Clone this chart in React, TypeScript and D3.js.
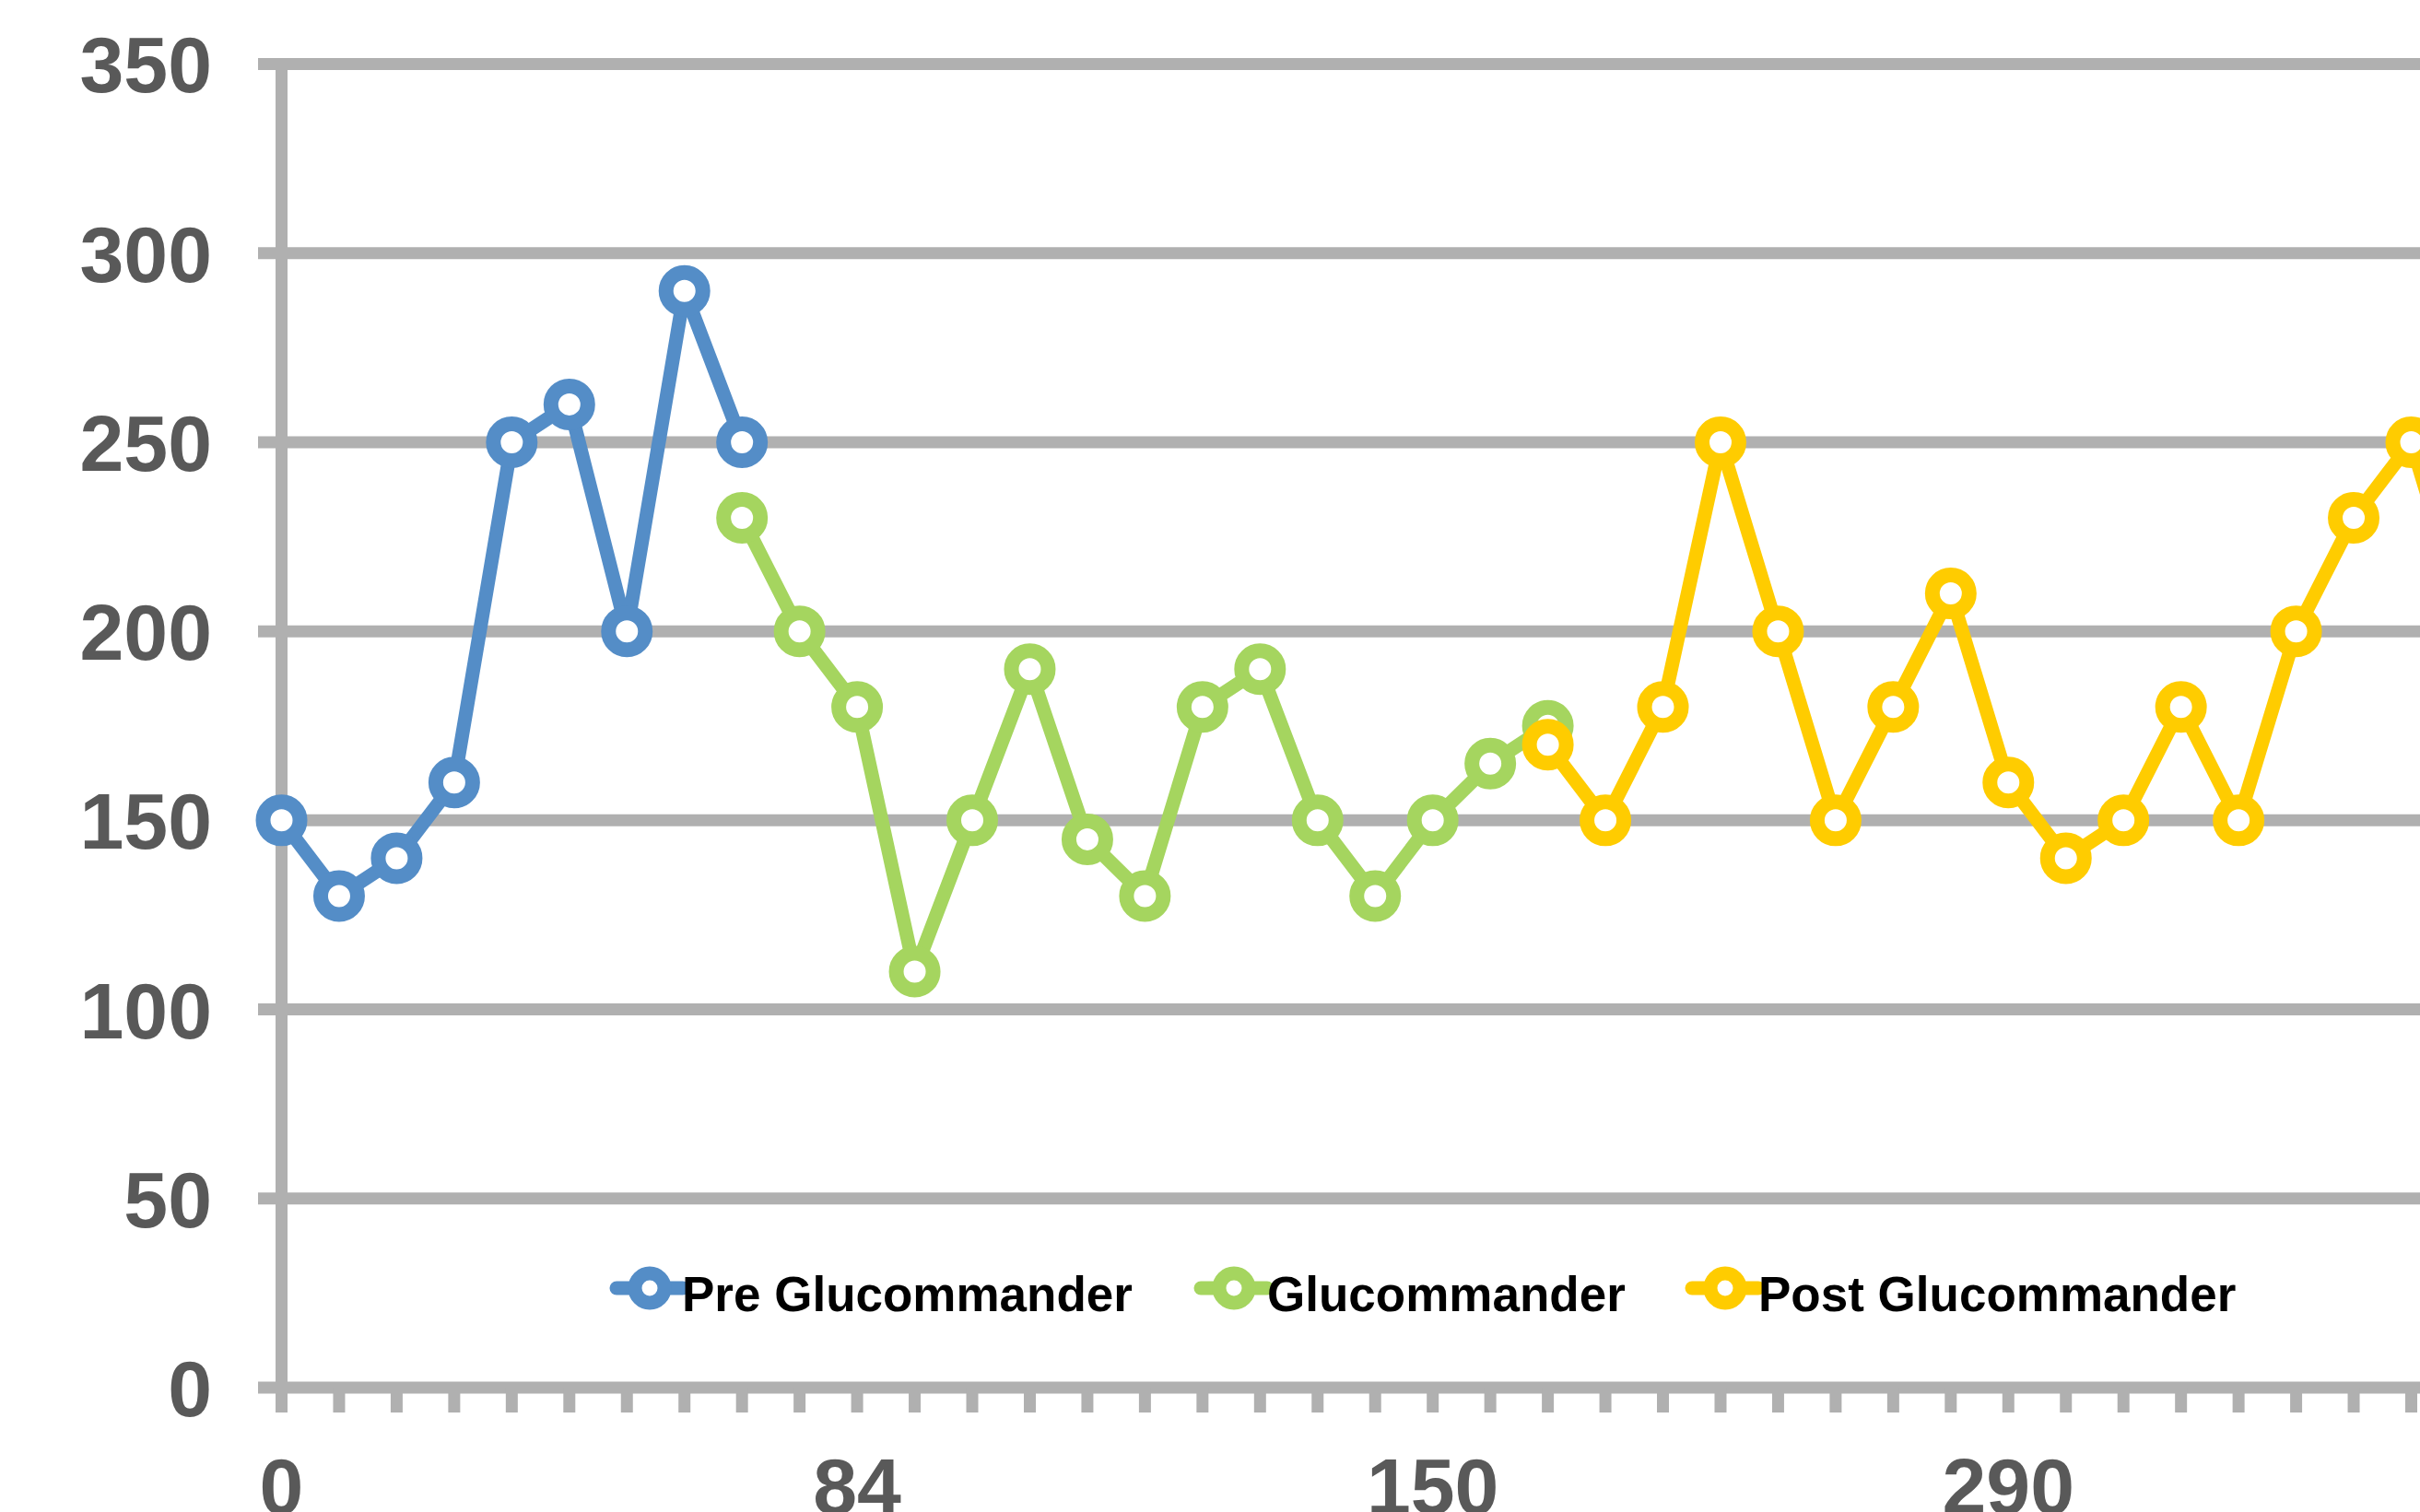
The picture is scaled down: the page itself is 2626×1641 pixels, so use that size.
import React from "react";
import * as d3 from "d3";

const W = 2626;
const H = 1641;

// Series values (index = category position)
const preStart = 0;
const preValues = [150, 130, 140, 160, 250, 260, 200, 290, 250];
const glucoStart = 8;
const glucoValues = [230, 200, 180, 110, 150, 190, 145, 130, 180, 190, 150, 130, 150, 165, 175];
const postStart = 22;
const postValues = [170, 150, 180, 250, 200, 150, 180, 210, 160, 140, 150, 180, 150, 200, 230, 250, 200];

const seriesNames = ["Pre Glucommander", "Glucommander", "Post Glucommander"];
const seriesColors = ["#548DC7", "#A5D55F", "#FFCC00"];

const yTicks = [0, 50, 100, 150, 200, 250, 300, 350];
const xTickLabels = ["0", "84", "150", "290"];
const labelEvery = 10;
const categoryCount = 39;

const GRID = "#B0B0B0";
const TEXT = "#595959";
const FONT = "'Liberation Sans', Arial, sans-serif";

export default function App() {
  const x = d3.scaleLinear().domain([0, 37]).range([305.5, 2616.5]);
  const y = d3.scaleLinear().domain([0, 350]).range([1506, 69.5]);

  const series = [
    { name: seriesNames[0], color: seriesColors[0], start: preStart, values: preValues },
    { name: seriesNames[1], color: seriesColors[1], start: glucoStart, values: glucoValues },
    { name: seriesNames[2], color: seriesColors[2], start: postStart, values: postValues },
  ];

  const line = d3
    .line<[number, number]>()
    .x((d) => x(d[0]))
    .y((d) => y(d[1]));

  const cats = d3.range(categoryCount);
  const legendMarkerX = [705, 1339, 1872];
  const legendTextX = [740, 1375, 1908];
  const legendY = 1398;

  return (
    <svg
      width={W}
      height={H}
      viewBox={`0 0 ${W} ${H}`}
      style={{ position: "absolute", left: 0, top: 0, background: "#fff" }}
    >
      <rect x={0} y={0} width={W} height={H} fill="#fff" />
      {/* gridlines */}
      {yTicks.map((t) => (
        <line key={t} x1={280} x2={W} y1={y(t)} y2={y(t)} stroke={GRID} strokeWidth={13} />
      ))}
      {/* y axis */}
      <line x1={x(0)} x2={x(0)} y1={y(350)} y2={1533} stroke={GRID} strokeWidth={13} />
      {/* x ticks */}
      {cats.map((c) => (
        <line key={c} x1={x(c)} x2={x(c)} y1={y(0)} y2={1533} stroke={GRID} strokeWidth={13} />
      ))}
      {/* y labels */}
      {yTicks.map((t) => (
        <text
          key={t}
          x={230}
          y={y(t)}
          dy="0.36em"
          textAnchor="end"
          fontFamily={FONT}
          fontWeight="bold"
          fontSize={86}
          fill={TEXT}
        >
          {t}
        </text>
      ))}
      {/* x labels */}
      {xTickLabels.map((l, i) => (
        <text
          key={l}
          x={x(i * labelEvery)}
          y={1643}
          textAnchor="middle"
          fontFamily={FONT}
          fontWeight="bold"
          fontSize={86}
          fill={TEXT}
        >
          {l}
        </text>
      ))}
      {/* series */}
      {series.map((s) => {
        const pts: [number, number][] = s.values.map((v, i) => [s.start + i, v]);
        return (
          <g key={s.name}>
            <path d={line(pts) || ""} fill="none" stroke={s.color} strokeWidth={15} strokeLinejoin="round" />
            {pts.map((p, i) => (
              <circle key={i} cx={x(p[0])} cy={y(p[1])} r={20} fill="#fff" stroke={s.color} strokeWidth={16} />
            ))}
          </g>
        );
      })}
      {/* legend */}
      {series.map((s, i) => (
        <g key={s.name}>
          <line
            x1={legendMarkerX[i] - 36}
            x2={legendMarkerX[i] + 36}
            y1={legendY}
            y2={legendY}
            stroke={s.color}
            strokeWidth={15}
            strokeLinecap="round"
          />
          <circle cx={legendMarkerX[i]} cy={legendY} r={16} fill="#fff" stroke={s.color} strokeWidth={15} />
          <text
            x={legendTextX[i]}
            y={1423}
            fontFamily={FONT}
            fontWeight="bold"
            fontSize={53}
            fill="#000"
          >
            {s.name}
          </text>
        </g>
      ))}
    </svg>
  );
}
